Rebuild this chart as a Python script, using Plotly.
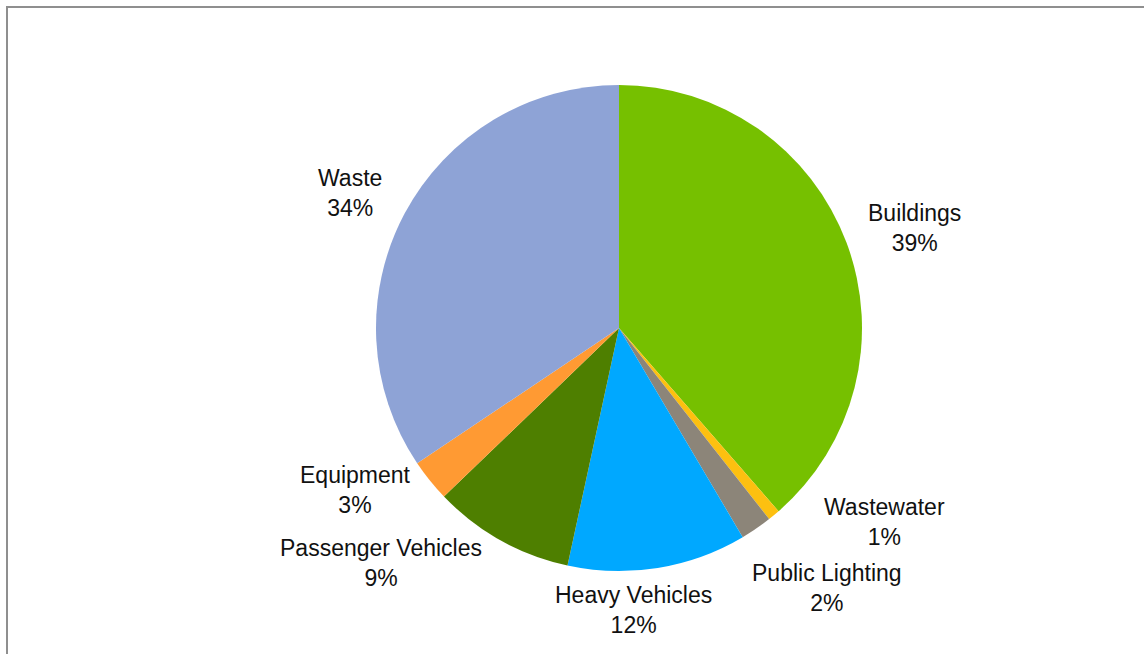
import plotly.graph_objects as go

# Data
categories = ["Buildings", "Wastewater", "Public Lighting", "Heavy Vehicles",
              "Passenger Vehicles", "Equipment", "Waste"]
values = [38.6, 0.8, 2.1, 11.9, 9.4, 2.8, 34.4]
colors = ["#76C000", "#FDC010", "#8C8579", "#00A8FF", "#4E7F00", "#FF9A33", "#8EA3D6"]

# Label placements (pixel centres in the 1144x654 canvas)
label_pos = [(914, 228), (884, 522), (827, 588), (633, 610),
             (381, 563), (355, 490), (350, 193)]

W, H = 1144, 654
cx, cy, r = 619, 328, 243

fig = go.Figure(go.Pie(
    labels=categories,
    values=values,
    marker=dict(colors=colors, line=dict(width=0)),
    sort=False,
    direction="clockwise",
    rotation=0,
    textinfo="none",
    hoverinfo="label+percent",
    showlegend=False,
    domain=dict(x=[(cx - r) / W, (cx + r) / W],
                y=[(H - cy - r) / H, (H - cy + r) / H]),
))

total = sum(values)
annotations = []
for cat, v, (px, py) in zip(categories, values, label_pos):
    annotations.append(dict(
        text=f"{cat}<br>{round(v / total * 100)}%",
        x=px / W, y=1 - py / H, xref="paper", yref="paper",
        xanchor="center", yanchor="middle", showarrow=False,
        font=dict(family="Liberation Sans, Arial, sans-serif", size=23, color="#111111"),
    ))

fig.update_layout(
    width=W, height=H,
    margin=dict(l=0, r=0, t=0, b=0),
    paper_bgcolor="white",
    plot_bgcolor="white",
    annotations=annotations,
    shapes=[
        dict(type="line", xref="paper", yref="paper",
             x0=6 / W, x1=1, y0=1 - 7 / H, y1=1 - 7 / H,
             line=dict(color="#8f8f8f", width=2)),
        dict(type="line", xref="paper", yref="paper",
             x0=7 / W, x1=7 / W, y0=0, y1=1 - 6 / H,
             line=dict(color="#8f8f8f", width=2)),
    ],
)

fig.write_html("out.html")
